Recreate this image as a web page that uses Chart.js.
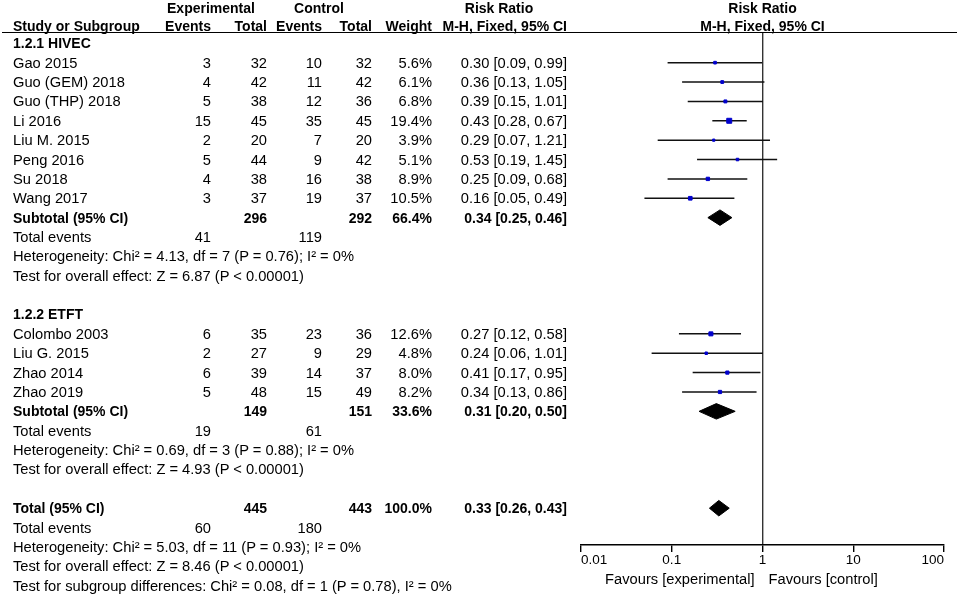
<!DOCTYPE html>
<html>
<head>
<meta charset="utf-8">
<script src="https://cdn.jsdelivr.net/npm/chart.js@4.4.1/dist/chart.umd.min.js"></script>
<style>
body{margin:0;background:#fff;}
#wrap{position:relative;width:959px;height:597px;overflow:hidden;font-family:"Liberation Sans",Arial,sans-serif;color:#000;}
#wrap canvas{position:absolute;left:0;top:0;}
.t{position:absolute;white-space:nowrap;font-size:14.7px;line-height:16px;}
.b{font-weight:bold;font-size:14px;}
.L{transform:translate(0,-50%);}
.R{transform:translate(-100%,-50%);}
.C{transform:translate(-50%,-50%);}
#rule{position:absolute;left:2px;top:32px;width:955px;height:0;border-top:1.5px solid #000;}
</style>
</head>
<body>
<div id="wrap">
  <canvas id="forest" width="959" height="597"></canvas>
  <div id="rule"></div>
</div>
<script>
// study level data
const studies = ['Gao 2015','Guo (GEM) 2018','Guo (THP) 2018','Li 2016','Liu M. 2015','Peng 2016','Su 2018','Wang 2017','Colombo 2003','Liu G. 2015','Zhao 2014','Zhao 2019'];
const studyRows = [1,2,3,4,5,6,7,8,15,16,17,18];
const expEvents = [3,4,5,15,2,5,4,3,6,2,6,5];
const expTotal = [32,42,38,45,20,44,38,37,35,27,39,48];
const ctrlEvents = [10,11,12,35,7,9,16,19,23,9,14,15];
const ctrlTotal = [32,42,36,45,20,42,38,37,36,29,37,49];
const weights = [5.6,6.1,6.8,19.4,3.9,5.1,8.9,10.5,12.6,4.8,8.0,8.2];
const rr = [0.30,0.36,0.39,0.43,0.29,0.53,0.25,0.16,0.27,0.24,0.41,0.34];
const rrLow = [0.09,0.13,0.15,0.28,0.07,0.19,0.09,0.05,0.12,0.06,0.17,0.13];
const rrHigh = [0.99,1.05,1.01,0.67,1.21,1.45,0.68,0.49,0.58,1.01,0.95,0.86];

// subgroups + overall
const groupNames = ['1.2.1 HIVEC','1.2.2 ETFT'];
const groupRows = [0,14];
const pooledNames = ['Subtotal (95% CI)','Subtotal (95% CI)','Total (95% CI)'];
const pooledRows = [9,19,24];
const pooledExpTotal = [296,149,445];
const pooledCtrlTotal = [292,151,443];
const pooledWeight = [66.4,33.6,100.0];
const pooledRR = [0.34,0.31,0.33];
const pooledLow = [0.25,0.20,0.26];
const pooledHigh = [0.46,0.50,0.43];
const eventsRows = [10,20,25];
const totalExpEvents = [41,19,60];
const totalCtrlEvents = [119,61,180];
const hetRows = [11,21,26];
const hetText = ['Heterogeneity: Chi² = 4.13, df = 7 (P = 0.76); I² = 0%','Heterogeneity: Chi² = 0.69, df = 3 (P = 0.88); I² = 0%','Heterogeneity: Chi² = 5.03, df = 11 (P = 0.93); I² = 0%'];
const effectRows = [12,22,27];
const effectText = ['Test for overall effect: Z = 6.87 (P < 0.00001)','Test for overall effect: Z = 4.93 (P < 0.00001)','Test for overall effect: Z = 8.46 (P < 0.00001)'];
const subgroupRow = 28;
const subgroupText = 'Test for subgroup differences: Chi² = 0.08, df = 1 (P = 0.78), I² = 0%';

const tickVals = [0.01,0.1,1,10,100];
const tickLabels = ['0.01','0.1','1','10','100'];

const FONT = '"Liberation Sans", Arial, sans-serif';
const diamondHalf = 0.4; // in rows

function ciText(m, l, h){
    return m.toFixed(2) + ' [' + l.toFixed(2) + ', ' + h.toFixed(2) + ']';
}

let datasets = [];
// squares first so they sit on top of the CI lines
datasets.push({
    type: 'scatter',
    data: studies.map((s, i) => ({x: rr[i], y: studyRows[i]})),
    pointStyle: 'rect',
    pointRadius: ctx => 0.8 * Math.sqrt(weights[ctx.dataIndex] || 1),
    backgroundColor: '#0000cd',
    borderColor: '#0000cd',
    borderWidth: 1
});
studies.forEach((s, i) => {
    datasets.push({
        type: 'line',
        data: [{x: rrLow[i], y: studyRows[i]}, {x: rrHigh[i], y: studyRows[i]}],
        borderColor: '#111',
        borderWidth: 1.5,
        pointRadius: 0,
        fill: false
    });
});
pooledRows.forEach((r, i) => {
    datasets.push({
        type: 'line',
        data: [
            {x: pooledLow[i], y: r},
            {x: pooledRR[i], y: r - diamondHalf},
            {x: pooledHigh[i], y: r},
            {x: pooledRR[i], y: r + diamondHalf},
            {x: pooledLow[i], y: r}
        ],
        borderColor: '#000',
        backgroundColor: '#000',
        borderWidth: 1,
        pointRadius: 0,
        tension: 0,
        fill: 'shape'
    });
});

const chart = new Chart(document.getElementById('forest'), {
    type: 'scatter',
    data: {datasets: datasets},
    options: {
        responsive: false,
        animation: false,
        layout: {padding: {left: 581, right: 15, top: 33, bottom: 0}},
        plugins: {legend: {display: false}, tooltip: {enabled: false}},
        scales: {
            x: {
                type: 'logarithmic',
                min: 0.01,
                max: 100,
                afterBuildTicks: s => { s.ticks = tickVals.map(v => ({value: v})); },
                afterFit: s => { s.height = 52; },
                ticks: {
                    callback: (v, i) => tickLabels[i],
                    align: 'inner',
                    autoSkip: false,
                    maxRotation: 0,
                    padding: 0,
                    color: '#000',
                    font: {family: FONT, size: 13.5}
                },
                grid: {
                    color: ctx => (ctx.tick && ctx.tick.value === 1) ? '#333' : 'rgba(0,0,0,0)',
                    tickColor: '#000',
                    tickLength: 7,
                    lineWidth: 1.4
                },
                border: {color: '#000', width: 1.4}
            },
            y: {
                type: 'linear',
                display: false,
                reverse: true,
                min: -0.532,
                max: 25.9
            }
        }
    }
});

// text table, positioned with the chart's own y scale
const wrap = document.getElementById('wrap');
const yOf = r => chart.scales.y.getPixelForValue(r);
const x1 = chart.scales.x.getPixelForValue(1);
const col = {name: 13, expEv: 211, expTot: 267, ctlEv: 322, ctlTot: 372, weight: 432, rr: 567};

function addText(str, x, y, align, bold){
    let d = document.createElement('div');
    d.className = 't ' + align + (bold ? ' b' : '');
    d.style.left = x + 'px';
    d.style.top = y + 'px';
    d.textContent = str;
    wrap.appendChild(d);
}

// headers
addText('Experimental', 211, 8, 'C', true);
addText('Control', 319, 8, 'C', true);
addText('Risk Ratio', 499, 8, 'C', true);
addText('Risk Ratio', x1, 8, 'C', true);
addText('Study or Subgroup', col.name, 26, 'L', true);
addText('Events', col.expEv, 26, 'R', true);
addText('Total', col.expTot, 26, 'R', true);
addText('Events', col.ctlEv, 26, 'R', true);
addText('Total', col.ctlTot, 26, 'R', true);
addText('Weight', col.weight, 26, 'R', true);
addText('M-H, Fixed, 95% CI', col.rr, 26, 'R', true);
addText('M-H, Fixed, 95% CI', x1, 26, 'C', true);

groupNames.forEach((g, i) => addText(g, col.name, yOf(groupRows[i]), 'L', true));

studies.forEach((s, i) => {
    let y = yOf(studyRows[i]);
    addText(s, col.name, y, 'L');
    addText(String(expEvents[i]), col.expEv, y, 'R');
    addText(String(expTotal[i]), col.expTot, y, 'R');
    addText(String(ctrlEvents[i]), col.ctlEv, y, 'R');
    addText(String(ctrlTotal[i]), col.ctlTot, y, 'R');
    addText(weights[i].toFixed(1) + '%', col.weight, y, 'R');
    addText(ciText(rr[i], rrLow[i], rrHigh[i]), col.rr, y, 'R');
});

pooledRows.forEach((r, i) => {
    let y = yOf(r);
    addText(pooledNames[i], col.name, y, 'L', true);
    addText(String(pooledExpTotal[i]), col.expTot, y, 'R', true);
    addText(String(pooledCtrlTotal[i]), col.ctlTot, y, 'R', true);
    addText(pooledWeight[i].toFixed(1) + '%', col.weight, y, 'R', true);
    addText(ciText(pooledRR[i], pooledLow[i], pooledHigh[i]), col.rr, y, 'R', true);

    let ye = yOf(eventsRows[i]);
    addText('Total events', col.name, ye, 'L');
    addText(String(totalExpEvents[i]), col.expEv, ye, 'R');
    addText(String(totalCtrlEvents[i]), col.ctlEv, ye, 'R');
    addText(hetText[i], col.name, yOf(hetRows[i]), 'L');
    addText(effectText[i], col.name, yOf(effectRows[i]), 'L');
});
addText(subgroupText, col.name, yOf(subgroupRow), 'L');

// favours labels under the axis
addText('Favours [experimental]', x1 - 8, 579, 'R');
addText('Favours [control]', x1 + 6, 579, 'L');
</script>
</body>
</html>
